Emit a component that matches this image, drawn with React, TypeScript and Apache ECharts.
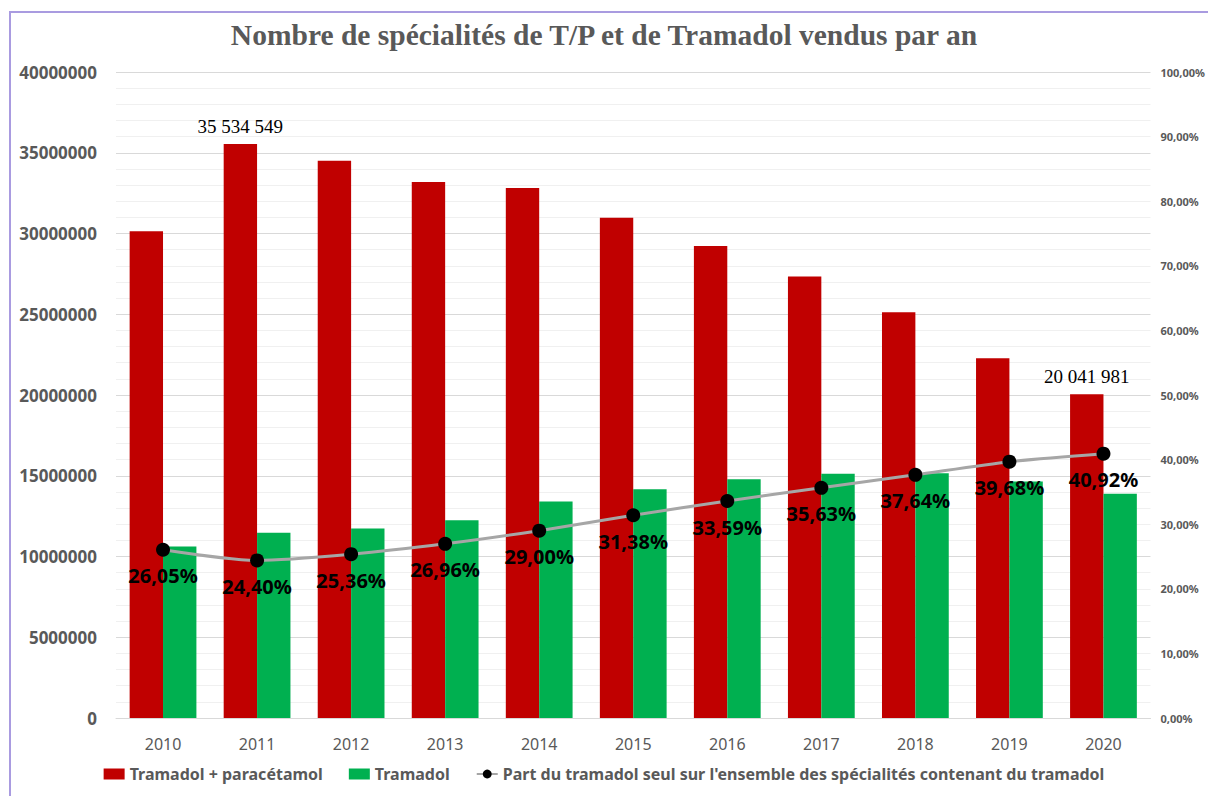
import React, { useEffect, useRef } from "react";
import * as echarts from "echarts";

const years = ["2010", "2011", "2012", "2013", "2014", "2015", "2016", "2017", "2018", "2019", "2020"];
const tramadolParacetamol = [30140000, 35534549, 34510000, 33190000, 32820000, 30980000, 29230000, 27330000, 25120000, 22270000, 20041981];
const tramadolSeul = [10620000, 11470000, 11730000, 12250000, 13400000, 14170000, 14790000, 15130000, 15160000, 14650000, 13880000];
const partTramadol = [0.2605, 0.244, 0.2536, 0.2696, 0.29, 0.3138, 0.3359, 0.3563, 0.3764, 0.3968, 0.4092];
const annotatedBars: Record<number, string> = { 1: "35 534 549", 10: "20 041 981" };

const fmtPct = (v: number) => (v * 100).toFixed(2).replace(".", ",") + "%";

export default function App() {
  const ref = useRef<HTMLDivElement>(null);
  useEffect(() => {
    if (!ref.current) return;
    const chart = echarts.init(ref.current, null, { renderer: "svg" });
    const sans = "Noto Sans";
    chart.setOption({
      animation: false,
      backgroundColor: "#ffffff",
      title: {
        text: "Nombre de spécialités de T/P et de Tramadol vendus par an",
        left: "center",
        top: 20,
        padding: 0,
        textStyle: { fontFamily: "Liberation Serif", fontWeight: "bold", fontSize: 29.5, color: "#595959" },
      },
      graphic: [
        {
          type: "rect",
          shape: { x: 10, y: 12, width: 1400, height: 1000 },
          style: { fill: "none", stroke: "#a99be0", lineWidth: 2 },
          silent: true,
        },
      ],
      legend: {
        bottom: 9,
        left: "center",
        itemGap: 26,
        itemWidth: 21,
        itemHeight: 11,
        textStyle: { fontFamily: sans, fontWeight: "bold", fontSize: 16, color: "#595959" },
        data: [
          { name: "Tramadol + paracétamol", icon: "rect" },
          { name: "Tramadol", icon: "rect" },
          { name: "Part du tramadol seul sur l'ensemble des spécialités contenant du tramadol" },
        ],
      },
      grid: { left: 116, right: 56, top: 72, bottom: 78 },
      xAxis: {
        type: "category",
        data: years,
        axisLine: { lineStyle: { color: "#d9d9d9", width: 1 } },
        axisTick: { show: false },
        axisLabel: { fontFamily: sans, fontSize: 16, color: "#595959", margin: 18 },
      },
      yAxis: [
        {
          type: "value",
          min: 0,
          max: 40000000,
          interval: 5000000,
          axisLine: { show: false },
          axisTick: { show: false },
          axisLabel: {
            fontFamily: sans,
            fontWeight: "bold",
            fontSize: 17,
            color: "#595959",
            margin: 19,
            formatter: (v: number) => String(v),
          },
          splitLine: { lineStyle: { color: "#d9d9d9", width: 1 } },
          minorTick: { show: false, splitNumber: 5 },
          minorSplitLine: { show: true, lineStyle: { color: "#f0f0f0", width: 1 } },
        },
        {
          type: "value",
          min: 0,
          max: 1,
          interval: 0.1,
          position: "right",
          axisLine: { show: false },
          axisTick: { show: false },
          splitLine: { show: false },
          axisLabel: {
            fontFamily: sans,
            fontWeight: "bold",
            fontSize: 11,
            color: "#595959",
            margin: 10,
            formatter: (v: number) => fmtPct(v),
          },
        },
      ],
      series: [
        {
          name: "Tramadol + paracétamol",
          type: "bar",
          barGap: "0%",
          barCategoryGap: "29%",
          itemStyle: { color: "#c00000" },
          data: tramadolParacetamol.map((v, i) =>
            annotatedBars[i]
              ? {
                  value: v,
                  label: {
                    show: true,
                    position: "top",
                    distance: 8,
                    formatter: annotatedBars[i],
                    fontFamily: "Liberation Serif",
                    fontSize: 19,
                    color: "#000000",
                  },
                }
              : v
          ),
        },
        {
          name: "Tramadol",
          type: "bar",
          itemStyle: { color: "#00b050" },
          data: tramadolSeul,
        },
        {
          name: "Part du tramadol seul sur l'ensemble des spécialités contenant du tramadol",
          type: "line",
          yAxisIndex: 1,
          smooth: 0.25,
          symbol: "circle",
          symbolSize: 14,
          itemStyle: { color: "#000000" },
          lineStyle: { color: "#a6a6a6", width: 3 },
          label: {
            show: true,
            position: "bottom",
            distance: 9,
            formatter: (p: any) => fmtPct(p.value),
            fontFamily: sans,
            fontWeight: "bold",
            fontSize: 20,
            color: "#000000",
          },
          z: 5,
          data: partTramadol,
        },
      ],
    });
    return () => chart.dispose();
  }, []);
  return (
    <div
      ref={ref}
      style={{ position: "absolute", left: 0, top: 0, width: 1208, height: 796 }}
    />
  );
}
